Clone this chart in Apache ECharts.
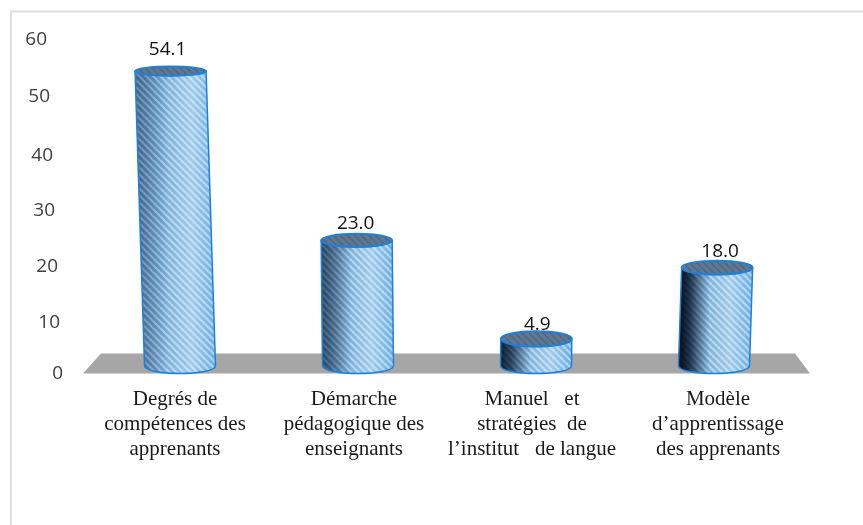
<!DOCTYPE html>
<html><head><meta charset="utf-8">
<style>html,body{margin:0;padding:0;background:#fff}#c{width:863px;height:525px}</style>
<script src="https://cdn.jsdelivr.net/npm/echarts@6/dist/echarts.min.js"></script>
</head><body><div id="c"></div>
<script>
const categories = ["Degrés de\ncompétences des\napprenants","Démarche\npédagogique des\nenseignants","Manuel   et\nstratégies  de\nl’institut   de langue","Modèle\nd’apprentissage\ndes apprenants"];
const values = [54.1,23.0,4.9,18.0];
const valueTicks = [0,10,20,30,40,50,60];
const tickInset = [0,3,5,8,10,13,16];
const tickDrop = [1,5,5,5,6,3,2];
const labelShift = [-5,-4,-4,4];
const shadowStrength = [0.3,0.55,0.85,1];

function stripes(color,w){
  const s=7,c=document.createElement('canvas');c.width=s;c.height=s;
  const g=c.getContext('2d');
  g.strokeStyle=color;g.lineWidth=w;
  for(const o of [-s,0,s]){g.beginPath();g.moveTo(o-1,-1);g.lineTo(o+s+1,s+1);g.stroke();}
  return c;
}
const stripePattern={image:stripes('rgba(255,255,255,0.45)',2.2),repeat:'repeat'};
const capPattern={image:stripes('rgba(30,45,65,0.25)',1.4),repeat:'repeat'};
const rx=35.5,lean=0.00012;
function cylinder(params,api){
  const i=params.dataIndex,v=api.value(1),b=api.coord([i,0]),t=api.coord([i,v]);
  const c=params.coordSys,mid=c.x+c.width/2;
  const x0=b[0],y0=b[1],y1=t[1],h=y0-y1,x1=x0+(x0-mid)*h*lean;
  const ry0=8,ry=8-3.5*h/300,q=1.33;
  const body=`M${x1-rx} ${y1}L${x0-rx} ${y0}C${x0-rx} ${y0+ry0*q} ${x0+rx} ${y0+ry0*q} ${x0+rx} ${y0}L${x1+rx} ${y1}C${x1+rx} ${y1+ry*q} ${x1-rx} ${y1+ry*q} ${x1-rx} ${y1}Z`;
  const base={type:'linear',x:0,y:0,x2:1,y2:0,colorStops:[
    {offset:0,color:'#4d8cc6'},{offset:.3,color:'#6fa8d8'},{offset:.7,color:'#9fcbeb'},{offset:1,color:'#69ade6'}]};
  const a=shadowStrength[i];
  const shadow={type:'linear',x:0,y:0,x2:1,y2:0,colorStops:[
    {offset:0,color:`rgba(0,6,16,${a})`},{offset:.16,color:`rgba(0,12,28,${a*.75})`},{offset:.42,color:'rgba(0,20,45,0)'},{offset:1,color:'rgba(0,20,45,0)'}]};
  const cap={cx:x1,cy:y1,rx:rx,ry:ry};
  return {type:'group',children:[
    {type:'path',shape:{pathData:body},style:{fill:base,stroke:null}},
    {type:'path',shape:{pathData:body},style:{fill:stripePattern,stroke:null}},
    {type:'path',shape:{pathData:body},style:{fill:shadow,stroke:'#1f80da',lineWidth:1.5}},
    {type:'ellipse',shape:cap,style:{fill:'#5f7892',stroke:null}},
    {type:'ellipse',shape:cap,style:{fill:capPattern,stroke:'#1f80da',lineWidth:2}},
    {type:'text',style:{text:v.toFixed(1),x:x1+(x0-mid)*0.011,y:y1-13.5-h*0.028,align:'center',verticalAlign:'middle',fontFamily:'Open Sans',fontSize:19,fill:'#111'}}
  ]};
}
function floor(params,api){
  const c=params.coordSys,y=api.coord([0,0])[1];
  const l=c.x,r=c.x+c.width;
  return {type:'polygon',shape:{points:[[l-8,y+8],[l+10,y-12],[r-8,y-12],[r+7,y+8]]},style:{fill:'#a6a6a6'},silent:true};
}
const chart=echarts.init(document.getElementById('c'),null,{renderer:'canvas'});
const tickRich={};
valueTicks.forEach((v,i)=>{tickRich['t'+v]={padding:[2*tickDrop[i],tickInset[i],0,0],fontFamily:'Open Sans',fontSize:19,color:'#404040'};});
chart.setOption({
  animation:false,
  backgroundColor:'#fff',
  graphic:[
    {type:'line',silent:true,shape:{x1:10,y1:11.5,x2:863,y2:11.5},style:{stroke:'#dedede',lineWidth:2}},
    {type:'line',silent:true,shape:{x1:11,y1:11,x2:11,y2:525},style:{stroke:'#dedede',lineWidth:2}}
  ],
  grid:[
    {left:91,right:60,top:38,height:335},
    {left:91,right:60,top:39,height:326.5}
  ],
  xAxis:[
    {gridIndex:0,type:'category',data:categories,show:false},
    {gridIndex:1,type:'category',
     data:categories.map((c,i)=>({value:c,textStyle:{padding:labelShift[i]<0?[0,-2*labelShift[i],0,0]:[0,0,0,2*labelShift[i]]}})),
     axisLine:{show:false},axisTick:{show:false},
     axisLabel:{interval:0,margin:21,fontFamily:'Liberation Serif',fontSize:21,color:'#1a1a1a',lineHeight:25}}
  ],
  yAxis:[
    {gridIndex:0,type:'value',min:0,max:60,interval:10,axisLine:{show:false},axisTick:{show:false},splitLine:{show:false},
     axisLabel:{margin:28,formatter:v=>`{t${v}|${v}}`,rich:tickRich}},
    {gridIndex:1,type:'value',min:0,max:60,interval:10,show:false}
  ],
  series:[
    {type:'custom',xAxisIndex:1,yAxisIndex:1,renderItem:floor,data:[[0,0]],silent:true,z:1},
    {type:'custom',xAxisIndex:1,yAxisIndex:1,renderItem:cylinder,z:2,
     data:values.map((v,i)=>[i,v]),encode:{x:0,y:1}}
  ]
});
</script></body></html>
